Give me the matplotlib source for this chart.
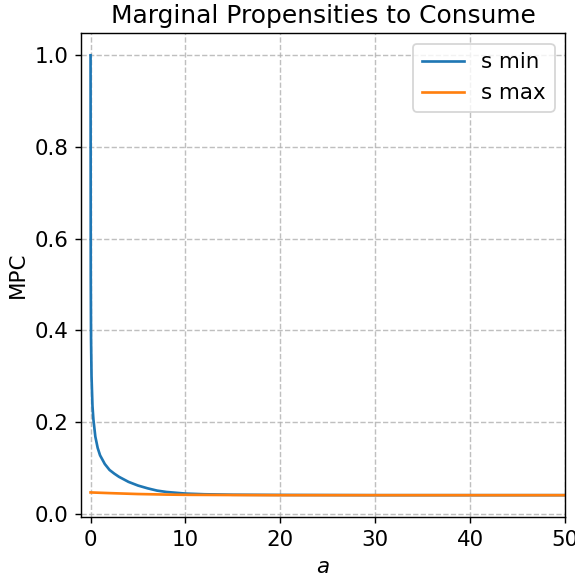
import numpy as np
import matplotlib
matplotlib.use('Agg')
import matplotlib.pyplot as plt

# values
a_min=[0,0.02,0.05,0.1,0.2,0.3,0.5,0.75,1,1.5,2,2.5,3,4,5,6,7,8,10,12,15,20,30,40,50]
mpc_min=[1.0,0.52,0.38,0.30,0.235,0.205,0.168,0.143,0.127,0.108,0.095,0.087,0.080,0.069,0.061,0.055,0.050,0.047,0.0435,0.042,0.041,0.0405,0.040,0.040,0.040]
a_max=[0,2,5,8,10,15,20,30,40,50]
mpc_max=[0.046,0.0445,0.0425,0.0413,0.0408,0.0403,0.040,0.040,0.040,0.040]

dpi=128
fig=plt.figure(figsize=(575/dpi,574/dpi),dpi=dpi)
ax=fig.add_axes([0.141,0.099,0.842,0.843])
ax.plot(a_min,mpc_min,color='#1f77b4',lw=1.5,label='s min')
ax.plot(a_max,mpc_max,color='#ff7f0e',lw=1.5,label='s max')
ax.set_xlim(-1,50)
ax.grid(ls='--',color='#b0b0b0',alpha=0.8)
ax.tick_params(labelsize=12)
ax.set_xlabel('$a$',fontsize=12)
ax.set_ylabel('MPC',fontsize=12)
ax.set_title('Marginal Propensities to Consume',fontsize=14)
ax.legend(loc='upper right',fontsize=12)

fig.savefig('out.png',dpi=dpi)
